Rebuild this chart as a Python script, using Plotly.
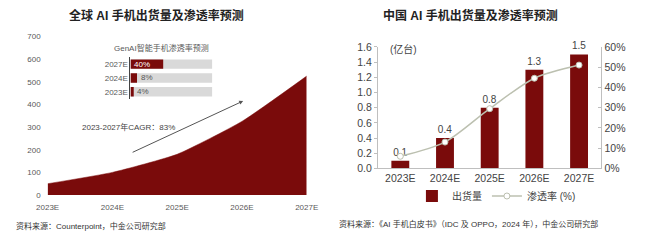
import plotly.graph_objects as go

W, H = 650, 240
def px(x): return x / W
def py(y): return 1 - y / H

FONT = "Liberation Sans, Arial, Noto Sans CJK SC"
RED = "#7a0b0b"
GREY_TXT = "#595959"

# ---- data ----
years = ["2023E", "2024E", "2025E", "2026E", "2027E"]
global_ship = [50, 100, 180, 325, 525]

genai_years = ["2023E", "2024E", "2027E"]
genai_rate = [4, 8, 40]
genai_labels = ["4%", "8%", "40%"]

china_ship = [0.1, 0.4, 0.8, 1.3, 1.5]
china_rate = [0.06, 0.13, 0.295, 0.445, 0.51]

fig = go.Figure()

# Left: area
fig.add_trace(go.Scatter(
    x=years, y=global_ship, mode="lines", fill="tozeroy",
    line=dict(color=RED, width=0.5, shape="spline", smoothing=0.5),
    fillcolor=RED, showlegend=False, xaxis="x", yaxis="y", hoverinfo="skip"))

# Inset bars
fig.add_trace(go.Bar(
    y=genai_years, x=[100] * len(genai_years), orientation="h",
    marker=dict(color="#d9d9d9", line=dict(width=0)), width=0.68,
    showlegend=False, xaxis="x3", yaxis="y3", hoverinfo="skip"))
fig.add_trace(go.Bar(
    y=genai_years, x=genai_rate, orientation="h",
    marker=dict(color=RED, line=dict(width=0)), width=0.68,
    showlegend=False, xaxis="x3", yaxis="y3", hoverinfo="skip"))

# Right: bars + line
fig.add_trace(go.Bar(
    x=years, y=china_ship, name="出货量", width=0.4,
    marker=dict(color=RED, line=dict(width=0)),
    text=[f"{v:.1f}" for v in china_ship], textposition="outside",
    textfont=dict(size=10, color="#444", family=FONT), cliponaxis=False,
    xaxis="x2", yaxis="y2"))
fig.add_trace(go.Scatter(
    x=years, y=china_rate, name="渗透率 (%)", mode="lines+markers",
    line=dict(color="#bcc0b0", width=1.5, shape="spline", smoothing=0.8),
    marker=dict(size=6, color="white", line=dict(color="#bcc0b0", width=1)),
    xaxis="x2", yaxis="y4"))

fig.update_layout(
    width=W, height=H, margin=dict(l=0, r=0, t=0, b=0),
    paper_bgcolor="white", plot_bgcolor="rgba(0,0,0,0)",
    font=dict(family=FONT, color=GREY_TXT),
    barmode="overlay", bargap=0.3,
    xaxis=dict(domain=[px(37), px(306)], type="category", range=[0, 4],
               showgrid=False, showline=False, ticks="", zeroline=False,
               ticklabelstandoff=6,
               tickfont=dict(size=8, color=GREY_TXT), anchor="y"),
    yaxis=dict(domain=[py(199), py(32)], range=[0, 700], dtick=100,
               showgrid=False, showline=False, zeroline=False, ticks="",
               ticklabelstandoff=6,
               tickfont=dict(size=8, color=GREY_TXT), anchor="x"),
    xaxis3=dict(domain=[px(123), px(208)], range=[0, 100], visible=False,
                anchor="y3"),
    yaxis3=dict(domain=[py(97.5), py(54)], type="category",
                showgrid=False, showline=True, linecolor="#444", linewidth=1,
                ticks="", tickfont=dict(size=8, color=GREY_TXT), anchor="x3"),
    xaxis2=dict(domain=[px(380), px(612)], type="category",
                showgrid=False, showline=True, linecolor="#bfbfbf",
                ticks="", tickfont=dict(size=10.5, color="#444"), anchor="y2"),
    yaxis2=dict(domain=[py(171), py(43)], range=[0, 1.6], dtick=0.2,
                tickformat=".1f", showgrid=False, showline=True,
                linecolor="#bfbfbf", ticks="outside", ticklen=3,
                tickcolor="#bfbfbf", zeroline=False,
                tickfont=dict(size=10.5, color="#444"), anchor="x2"),
    yaxis4=dict(domain=[py(171), py(43)], range=[0, 0.6], dtick=0.1,
                tickformat=".0%", overlaying="y2", side="right",
                showgrid=False, showline=True, linecolor="#bfbfbf",
                ticks="inside", ticklen=3, tickcolor="#bfbfbf", zeroline=False,
                tickfont=dict(size=10.5, color="#444"), anchor="x2"),
    legend=dict(orientation="h", x=px(503), xanchor="center",
                y=py(200), yanchor="middle", font=dict(size=10, color="#444"),
                itemwidth=30, tracegroupgap=0, bgcolor="rgba(0,0,0,0)"),
)

# inset value labels built from the data
for yr, v, lab in zip(genai_years, genai_rate, genai_labels):
    inside = v >= 20
    fig.add_annotation(
        x=2 if inside else v + 2, y=yr, xref="x3", yref="y3",
        text=lab, showarrow=False, xanchor="left", yanchor="middle",
        font=dict(size=8, color="white" if inside else "#555"))

ann = [
    dict(x=px(150), y=py(10), text="<b>全球 AI 手机出货量及渗透率预测</b>",
         font=dict(size=12, color="#222")),
    dict(x=px(476), y=py(10), text="<b>中国 AI 手机出货量及渗透率预测</b>",
         font=dict(size=12, color="#222")),
    dict(x=px(155), y=py(44), text="GenAI智能手机渗透率预测",
         font=dict(size=8, color=GREY_TXT)),
    dict(x=px(121), y=py(127), text="2023-2027年CAGR：83%",
         font=dict(size=8, color="#444")),
    dict(x=px(407), y=py(45), text="(亿台)", font=dict(size=10, color="#444")),
    dict(x=px(2), y=py(232), xanchor="left",
         text="资料来源：Counterpoint，中金公司研究部",
         font=dict(size=8, color="#333")),
    dict(x=px(337), y=py(229), xanchor="left",
         text="资料来源：《AI 手机白皮书》（IDC 及 OPPO，2024 年），中金公司研究部",
         font=dict(size=8, color="#333")),
]
for a in ann:
    a.setdefault("xanchor", "center")
    a.update(xref="paper", yref="paper", yanchor="middle", showarrow=False)
    fig.add_annotation(**a)

fig.add_annotation(x=px(240), y=py(100), ax=128 - 240, ay=152 - 100,
                   xref="paper", yref="paper", text="", showarrow=True,
                   arrowhead=2, arrowsize=0.8, arrowwidth=1, arrowcolor="#555")

fig.write_html("out.html")
